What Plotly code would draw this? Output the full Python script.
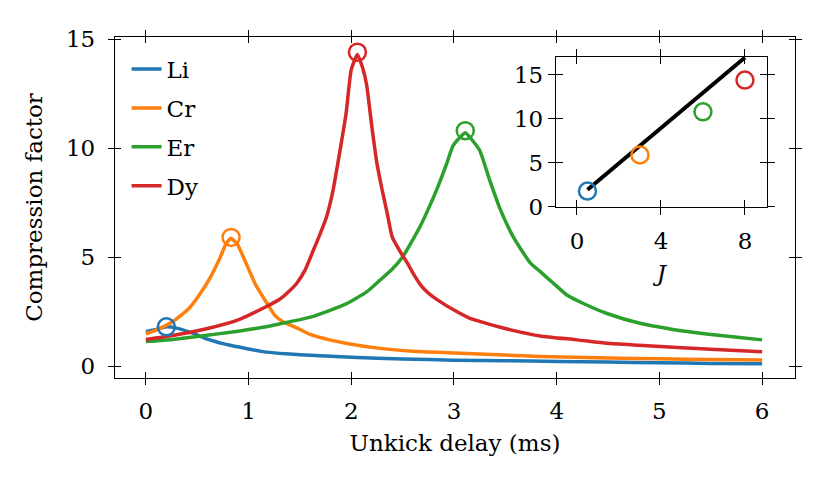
import plotly.graph_objects as go

# unkick delay (ms) and compression factor
li_t = [0.0, 0.1, 0.2, 0.3, 0.42, 0.5, 0.58, 0.66, 0.74, 0.82, 0.9, 1.0, 1.14, 1.3, 1.5,
        1.8, 2.0, 2.5, 3.0, 3.5, 4.0, 4.5, 5.0, 5.5, 6.0]
li_c = [1.58, 1.68, 1.8, 1.74, 1.57, 1.43, 1.27, 1.15, 1.04, 0.95, 0.88, 0.78, 0.66, 0.58,
        0.52, 0.45, 0.4, 0.32, 0.27, 0.24, 0.21, 0.18, 0.15, 0.12, 0.1]

cr_t = [0.0, 0.1, 0.26, 0.42, 0.52, 0.62, 0.72, 0.78, 0.83, 0.89, 0.97, 1.07, 1.17, 1.26,
        1.35, 1.47, 1.6, 1.79, 2.0, 2.28, 2.6, 3.0, 3.5, 3.84, 4.5, 5.0, 5.5, 6.0]
cr_c = [1.48, 1.65, 2.03, 2.64, 3.26, 4.0, 4.94, 5.6, 5.86, 5.6, 4.78, 3.72, 2.95, 2.3,
        2.0, 1.75, 1.45, 1.2, 1.0, 0.81, 0.68, 0.6, 0.5, 0.44, 0.37, 0.33, 0.3, 0.28]

er_t = [0.0, 0.26, 0.58, 0.9, 1.14, 1.3, 1.63, 1.95, 2.15, 2.28, 2.4, 2.5, 2.6, 2.67, 2.75,
        2.83, 2.93, 2.99, 3.06, 3.11, 3.18, 3.25, 3.35, 3.45, 3.58, 3.74, 3.84, 3.97, 4.1,
        4.26, 4.49, 4.81, 5.13, 5.46, 5.78, 6.0]
er_c = [1.12, 1.22, 1.4, 1.6, 1.78, 1.93, 2.28, 2.85, 3.4, 3.94, 4.45, 5.0, 5.8, 6.4, 7.2,
        8.07, 9.3, 10.1, 10.5, 10.7, 10.35, 9.9, 8.5, 7.2, 5.9, 4.75, 4.33, 3.79, 3.26,
        2.87, 2.41, 1.96, 1.68, 1.47, 1.31, 1.2]

dy_t = [0.0, 0.26, 0.58, 0.9, 1.17, 1.3, 1.4, 1.47, 1.55, 1.63, 1.7, 1.76, 1.82, 1.88,
        1.95, 2.0, 2.06, 2.11, 2.15, 2.2, 2.25, 2.3, 2.35, 2.4, 2.47, 2.55, 2.6, 2.67, 2.75,
        2.85, 3.0, 3.15, 3.25, 3.5, 3.84, 4.2, 4.49, 4.8, 5.13, 5.5, 6.0]
dy_c = [1.22, 1.4, 1.7, 2.12, 2.72, 3.05, 3.45, 3.8, 4.4, 5.3, 6.1, 6.85, 8.0, 9.6,
        11.6, 13.6, 14.3, 13.7, 12.9, 11.0, 9.3, 8.1, 7.0, 5.9, 5.3, 4.7, 4.27, 3.75, 3.35,
        3.0, 2.57, 2.2, 2.05, 1.72, 1.38, 1.2, 1.04, 0.95, 0.86, 0.77, 0.66]

# peak positions and heights (circles)
names = ['Li', 'Cr', 'Er', 'Dy']
colors = ['#1f77b4', '#ff7f0e', '#2ca02c', '#d62728']
peak_t = [0.2, 0.83, 3.11, 2.06]
peak_c = [1.8, 5.9, 10.8, 14.4]

# inset: peak compression vs J, with linear fit
J = [0.5, 3, 6, 8]
fit_J = [0.5, 8.0]
fit_c = [1.95, 16.95]

curves = [(li_t, li_c), (cr_t, cr_c), (er_t, er_c), (dy_t, dy_c)]

fnt = dict(family='DejaVu Serif', size=23, color='black')

fig = go.Figure()

for i in range(4):
    t, c = curves[i]
    fig.add_trace(go.Scatter(
        x=t, y=c, mode='lines', name=names[i],
        line=dict(color=colors[i], width=3.5, shape='spline', smoothing=0.5),
        legendgroup=names[i],
    ))

for i in range(4):
    fig.add_trace(go.Scatter(
        x=[peak_t[i]], y=[peak_c[i]], mode='markers', showlegend=False,
        marker=dict(symbol='circle-open', size=17, color=colors[i], line=dict(width=2.5)),
    ))

# dummy traces so the overlay axes (inward half of the ticks) get drawn
fig.add_trace(go.Scatter(x=[None], y=[None], xaxis='x2', yaxis='y2', showlegend=False, hoverinfo='skip'))
fig.add_trace(go.Scatter(x=[None], y=[None], xaxis='x4', yaxis='y4', showlegend=False, hoverinfo='skip'))

fig.add_trace(go.Scatter(
    x=fit_J, y=fit_c, mode='lines', xaxis='x3', yaxis='y3', showlegend=False,
    line=dict(color='black', width=4),
))
fig.add_trace(go.Scatter(
    x=J, y=peak_c, mode='markers', xaxis='x3', yaxis='y3', showlegend=False,
    marker=dict(symbol='circle-open', size=17, color=colors, line=dict(width=2.5)),
))

ax = dict(showgrid=False, zeroline=False, showline=True, linecolor='black', linewidth=1.3,
          tickcolor='black', tickwidth=1.3, ticklen=6, mirror='ticks', tickfont=fnt)

xr = [-0.3, 6.32]
yr = [-0.55, 15.1]
ixr = [-1.0, 9.05]
iyr = [0, 17]
idx = [0.6485, 0.9588]
idy = [0.5015, 0.941]

fig.update_layout(
    width=830, height=492,
    margin=dict(l=107, r=43, t=29, b=122),
    paper_bgcolor='white', plot_bgcolor='white',
    font=fnt,
    xaxis=dict(ax, range=xr, ticks='outside', dtick=1, ticklabelstandoff=6,
               title=dict(text='Unkick delay (ms)', font=fnt, standoff=12)),
    yaxis=dict(ax, range=yr, ticks='outside', dtick=5, ticklabelstandoff=8,
               title=dict(text='Compression factor', font=fnt, standoff=16)),
    xaxis2=dict(ax, range=xr, ticks='inside', dtick=1, overlaying='x', anchor='y2',
                showticklabels=False, showline=False),
    yaxis2=dict(ax, range=yr, ticks='inside', dtick=5, overlaying='y', anchor='x2',
                showticklabels=False, showline=False),
    xaxis3=dict(ax, range=ixr, domain=idx, anchor='y3', ticks='outside', dtick=4, ticklen=7,
                ticklabelstandoff=6,
                title=dict(text='<i>J</i>', font=fnt, standoff=12)),
    yaxis3=dict(ax, range=iyr, domain=idy, anchor='x3', ticks='outside', dtick=5, ticklen=7,
                ticklabelstandoff=0),
    xaxis4=dict(ax, range=ixr, ticks='inside', dtick=4, ticklen=7, overlaying='x3', anchor='y4',
                showticklabels=False, showline=False),
    yaxis4=dict(ax, range=iyr, domain=idy, ticks='inside', dtick=5, ticklen=7, overlaying='y3',
                anchor='x4', showticklabels=False, showline=False),
    legend=dict(x=0.017, y=0.969, xanchor='left', yanchor='top', bgcolor='rgba(0,0,0,0)',
                font=fnt, tracegroupgap=6, traceorder='grouped', itemwidth=30),
    showlegend=True,
)

fig.write_html('out.html')
